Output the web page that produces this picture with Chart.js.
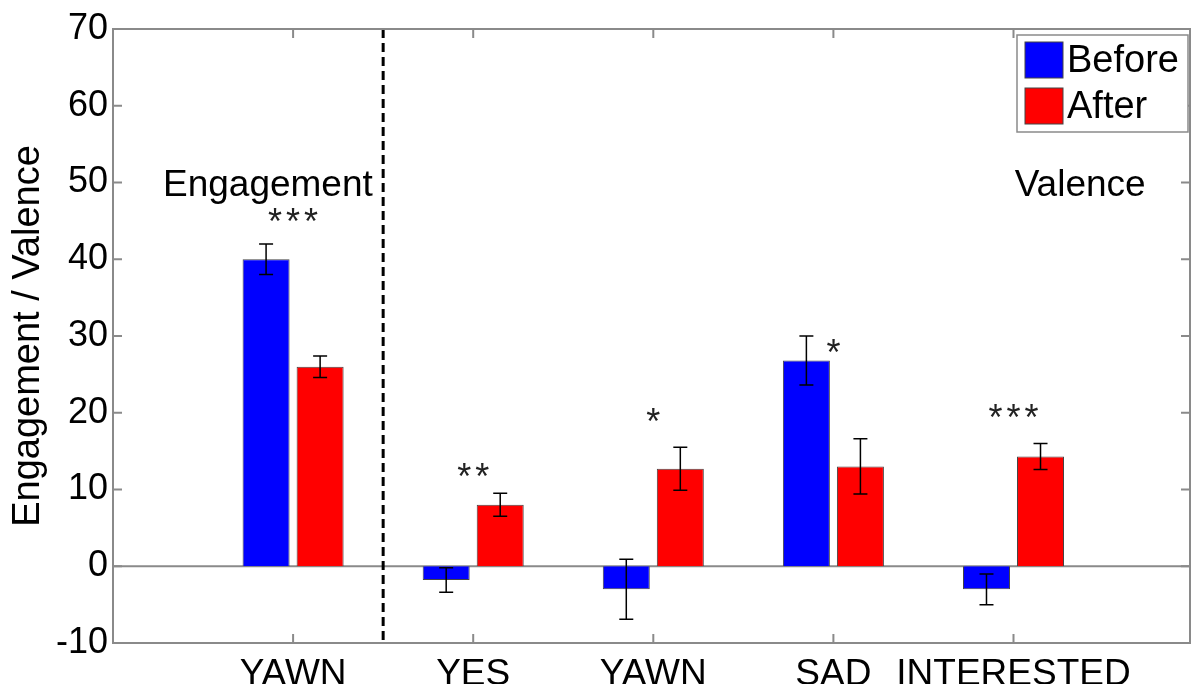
<!DOCTYPE html>
<html>
<head>
<meta charset="utf-8">
<script src="https://cdn.jsdelivr.net/npm/chart.js@4.4.1/dist/chart.umd.min.js"></script>
<style>
	body { margin: 0; background: #fff; }
</style>
</head>
<body>
<canvas id="myChart" width="1193" height="684"></canvas>
<script>
var categories = ["YAWN", "YES", "YAWN", "SAD", "INTERESTED"];
var before = [40, -1.8, -3, 26.8, -3];
var beforeErr = [2, 1.6, 3.9, 3.2, 2];
var after = [26, 8, 12.7, 13, 14.3];
var afterErr = [1.4, 1.5, 2.8, 3.6, 1.7];
var stars = ["***", "**", "*", "*", "***"];
var starLevel = [46, 12.8, 20, 29, 20.5];
var yTicks = [-10, 0, 10, 20, 30, 40, 50, 60, 70];

var fontName = "'Liberation Sans', Arial, Helvetica, sans-serif";
var boxGray = "#8a8a8a";

function toPoints(values) {
	return values.map(function (v, i) {
		return { x: i + 1, y: v };
	});
}

var matlabLook = {
	id: "matlabLook",
	beforeDatasetsDraw: function (chart) {
		var ctx = chart.ctx;
		var a = chart.chartArea;
		var y0 = chart.scales.y.getPixelForValue(0);
		ctx.save();
		ctx.strokeStyle = boxGray;
		ctx.lineWidth = 2;
		ctx.beginPath();
		ctx.moveTo(a.left, y0);
		ctx.lineTo(a.right, y0);
		ctx.stroke();
		ctx.restore();
	},
	afterDatasetsDraw: function (chart) {
		var ctx = chart.ctx;
		var a = chart.chartArea;
		var xs = chart.scales.x;
		var ys = chart.scales.y;
		ctx.save();

		// error bars
		var errs = [beforeErr, afterErr];
		var vals = [before, after];
		ctx.strokeStyle = "#000";
		ctx.lineWidth = 1.5;
		for (var d = 0; d < 2; d++) {
			var meta = chart.getDatasetMeta(d);
			meta.data.forEach(function (bar, i) {
				var top = ys.getPixelForValue(vals[d][i] + errs[d][i]);
				var bot = ys.getPixelForValue(vals[d][i] - errs[d][i]);
				ctx.beginPath();
				ctx.moveTo(bar.x, top);
				ctx.lineTo(bar.x, bot);
				ctx.moveTo(bar.x - 7, top);
				ctx.lineTo(bar.x + 7, top);
				ctx.moveTo(bar.x - 7, bot);
				ctx.lineTo(bar.x + 7, bot);
				ctx.stroke();
			});
		}

		// significance stars
		ctx.fillStyle = "#222";
		ctx.font = "36px " + fontName;
		ctx.textAlign = "center";
		ctx.textBaseline = "alphabetic";
		ctx.letterSpacing = "4px";
		stars.forEach(function (s, i) {
			ctx.fillText(s, xs.getPixelForValue(i + 1) + 2, ys.getPixelForValue(starLevel[i]) + 0.58 * 36);
		});
		ctx.letterSpacing = "0px";

		// divider between engagement and valence
		var xd = xs.getPixelForValue(1.5);
		ctx.strokeStyle = "#000";
		ctx.lineWidth = 3;
		ctx.setLineDash([9, 5]);
		ctx.beginPath();
		ctx.moveTo(xd, a.top);
		ctx.lineTo(xd, a.bottom);
		ctx.stroke();
		ctx.setLineDash([]);

		ctx.fillStyle = "#000";
		ctx.font = "37px " + fontName;
		ctx.fillText("Engagement", xs.getPixelForValue(0.86), ys.getPixelForValue(48.2));
		ctx.fillText("Valence", xs.getPixelForValue(5.37), ys.getPixelForValue(48.2));

		// axes box and inward ticks
		ctx.strokeStyle = boxGray;
		ctx.lineWidth = 2;
		ctx.strokeRect(a.left, a.top, a.right - a.left, a.bottom - a.top);
		ctx.beginPath();
		yTicks.forEach(function (t) {
			var py = ys.getPixelForValue(t);
			ctx.moveTo(a.left, py);
			ctx.lineTo(a.left + 9, py);
			ctx.moveTo(a.right, py);
			ctx.lineTo(a.right - 9, py);
		});
		categories.forEach(function (c, i) {
			var px = xs.getPixelForValue(i + 1);
			ctx.moveTo(px, a.bottom);
			ctx.lineTo(px, a.bottom - 9);
			ctx.moveTo(px, a.top);
			ctx.lineTo(px, a.top + 9);
		});
		ctx.stroke();

		// legend
		var lx = a.right - 173, ly = a.top + 6;
		ctx.fillStyle = "#fff";
		ctx.fillRect(lx, ly, 171, 97);
		ctx.strokeStyle = boxGray;
		ctx.lineWidth = 1.5;
		ctx.strokeRect(lx, ly, 171, 97);
		ctx.font = "38px " + fontName;
		ctx.textAlign = "left";
		ctx.textBaseline = "middle";
		chart.data.datasets.forEach(function (ds, k) {
			var sy = ly + 7 + k * 46;
			ctx.fillStyle = ds.backgroundColor;
			ctx.fillRect(lx + 8, sy, 38, 36);
			ctx.strokeStyle = "#444";
			ctx.lineWidth = 1;
			ctx.strokeRect(lx + 8, sy, 38, 36);
			ctx.fillStyle = "#000";
			ctx.fillText(ds.label, lx + 50, sy + 20);
		});
		ctx.restore();
	},
};

document.addEventListener("DOMContentLoaded", function () {
	var ctx = document.getElementById("myChart").getContext("2d");
	var myChart = new Chart(ctx, {
		type: "bar",
		data: {
			datasets: [
				{
					label: "Before",
					data: toPoints(before),
					backgroundColor: "#0000ff",
					borderColor: "#444",
					borderWidth: 1,
					categoryPercentage: 0.6,
					barPercentage: 0.87,
				},
				{
					label: "After",
					data: toPoints(after),
					backgroundColor: "#ff0000",
					borderColor: "#444",
					borderWidth: 1,
					categoryPercentage: 0.6,
					barPercentage: 0.87,
				},
			],
		},
		options: {
			responsive: false,
			animation: false,
			layout: { padding: { top: 29, right: 3, left: 0, bottom: 0 } },
			plugins: {
				legend: { display: false },
				tooltip: { enabled: false },
			},
			scales: {
				x: {
					type: "linear",
					min: 0,
					max: 5.98,
					offset: false,
					grid: { display: false, offset: false },
					border: { display: false },
					afterBuildTicks: function (s) {
						s.ticks = categories.map(function (c, i) {
							return { value: i + 1 };
						});
					},
					afterFit: function (s) {
						s.height = 41;
					},
					ticks: {
						autoSkip: false,
						maxRotation: 0,
						minRotation: 0,
						padding: 2,
						color: "#000",
						font: { family: fontName, size: 37 },
						callback: function (v) {
							return categories[v - 1] || "";
						},
					},
				},
				y: {
					min: yTicks[0],
					max: yTicks[yTicks.length - 1],
					grid: { display: false, drawTicks: false },
					border: { display: false },
					afterFit: function (s) {
						s.width = 113;
					},
					ticks: {
						stepSize: yTicks[1] - yTicks[0],
						padding: 5,
						color: "#000",
						font: { family: fontName, size: 36 },
					},
					title: {
						display: true,
						text: "Engagement / Valence",
						color: "#000",
						font: { family: fontName, size: 38 },
						padding: { top: 6, bottom: 0 },
					},
				},
			},
		},
		plugins: [matlabLook],
	});
});
</script>
</body>
</html>
